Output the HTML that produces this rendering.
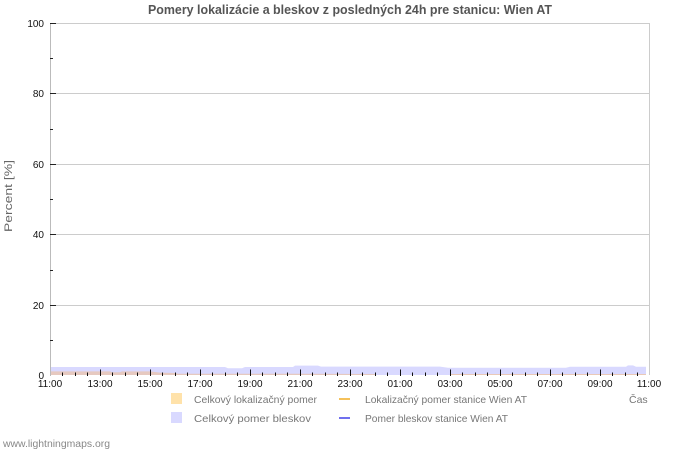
<!DOCTYPE html>
<html>
<head>
<meta charset="utf-8">
<style>
html,body{margin:0;padding:0;background:#fff;}
svg{display:block;}
text{font-family:"Liberation Sans","DejaVu Sans",sans-serif;}
</style>
</head>
<body>
<svg width="700" height="450" viewBox="0 0 700 450" xmlns="http://www.w3.org/2000/svg">
<rect x="0" y="0" width="700" height="450" fill="#fff"/>
<!-- title -->
<text x="350" y="14" text-anchor="middle" font-size="12.5" font-weight="bold" fill="#555" textLength="404" lengthAdjust="spacingAndGlyphs">Pomery lokalizácie a bleskov z posledných 24h pre stanicu: Wien AT</text>

<!-- gridlines -->
<g stroke="#cccccc" stroke-width="1">
<line x1="50" y1="23.5" x2="650" y2="23.5"/>
<line x1="50" y1="93.5" x2="650" y2="93.5"/>
<line x1="50" y1="164.5" x2="650" y2="164.5"/>
<line x1="50" y1="234.5" x2="650" y2="234.5"/>
<line x1="50" y1="305.5" x2="650" y2="305.5"/>
<line x1="649.5" y1="23" x2="649.5" y2="375"/>
</g>

<!-- fills -->
<polygon fill="#d9d9ff" points="50,367 225,367 228,368.3 242,368.3 245,367 293,367 295,365.6 318,365.6 321,366.6 440,366.6 448,367.8 566,367.8 570,366.8 626,366.8 628,365.4 633,365.4 636,366.8 646,366.8 646,375 50,375"/>
<polygon fill="#e6c9c0" points="50,371.4 110,371.4 112,372.2 120,372.2 122,371.4 150,371.4 160,372.6 175,373 178,373.8 300,373.8 376,374 376,375 50,375"/>
<polygon fill="#eac9b8" points="450,374 646,374 646,375 450,375"/>

<!-- axis line -->
<line x1="50.5" y1="23" x2="50.5" y2="376" stroke="#bbbbbb" stroke-width="1"/>

<!-- y ticks -->
<g stroke="#222" stroke-width="1">
<line x1="50" y1="23.5" x2="56" y2="23.5"/>
<line x1="50" y1="93.5" x2="56" y2="93.5"/>
<line x1="50" y1="164.5" x2="56" y2="164.5"/>
<line x1="50" y1="234.5" x2="56" y2="234.5"/>
<line x1="50" y1="305.5" x2="56" y2="305.5"/>
<line x1="50" y1="58.5" x2="53" y2="58.5"/>
<line x1="50" y1="129.5" x2="53" y2="129.5"/>
<line x1="50" y1="199.5" x2="53" y2="199.5"/>
<line x1="50" y1="270.5" x2="53" y2="270.5"/>
<line x1="50" y1="340.5" x2="53" y2="340.5"/>
</g>

<!-- x ticks -->
<g stroke="#111" stroke-width="1">
<line x1="62.5" y1="372.5" x2="62.5" y2="376"/><line x1="75.5" y1="372.5" x2="75.5" y2="376"/><line x1="87.5" y1="372.5" x2="87.5" y2="376"/><line x1="100.5" y1="369.5" x2="100.5" y2="376"/>
<line x1="112.5" y1="372.5" x2="112.5" y2="376"/><line x1="125.5" y1="372.5" x2="125.5" y2="376"/><line x1="137.5" y1="372.5" x2="137.5" y2="376"/><line x1="150.5" y1="369.5" x2="150.5" y2="376"/>
<line x1="162.5" y1="372.5" x2="162.5" y2="376"/><line x1="175.5" y1="372.5" x2="175.5" y2="376"/><line x1="187.5" y1="372.5" x2="187.5" y2="376"/><line x1="200.5" y1="369.5" x2="200.5" y2="376"/>
<line x1="212.5" y1="372.5" x2="212.5" y2="376"/><line x1="225.5" y1="372.5" x2="225.5" y2="376"/><line x1="237.5" y1="372.5" x2="237.5" y2="376"/><line x1="250.5" y1="369.5" x2="250.5" y2="376"/>
<line x1="262.5" y1="372.5" x2="262.5" y2="376"/><line x1="275.5" y1="372.5" x2="275.5" y2="376"/><line x1="287.5" y1="372.5" x2="287.5" y2="376"/><line x1="300.5" y1="369.5" x2="300.5" y2="376"/>
<line x1="312.5" y1="372.5" x2="312.5" y2="376"/><line x1="325.5" y1="372.5" x2="325.5" y2="376"/><line x1="337.5" y1="372.5" x2="337.5" y2="376"/><line x1="350.5" y1="369.5" x2="350.5" y2="376"/>
<line x1="362.5" y1="372.5" x2="362.5" y2="376"/><line x1="375.5" y1="372.5" x2="375.5" y2="376"/><line x1="387.5" y1="372.5" x2="387.5" y2="376"/><line x1="400.5" y1="369.5" x2="400.5" y2="376"/>
<line x1="412.5" y1="372.5" x2="412.5" y2="376"/><line x1="425.5" y1="372.5" x2="425.5" y2="376"/><line x1="437.5" y1="372.5" x2="437.5" y2="376"/><line x1="450.5" y1="369.5" x2="450.5" y2="376"/>
<line x1="462.5" y1="372.5" x2="462.5" y2="376"/><line x1="475.5" y1="372.5" x2="475.5" y2="376"/><line x1="487.5" y1="372.5" x2="487.5" y2="376"/><line x1="500.5" y1="369.5" x2="500.5" y2="376"/>
<line x1="512.5" y1="372.5" x2="512.5" y2="376"/><line x1="525.5" y1="372.5" x2="525.5" y2="376"/><line x1="537.5" y1="372.5" x2="537.5" y2="376"/><line x1="550.5" y1="369.5" x2="550.5" y2="376"/>
<line x1="562.5" y1="372.5" x2="562.5" y2="376"/><line x1="575.5" y1="372.5" x2="575.5" y2="376"/><line x1="587.5" y1="372.5" x2="587.5" y2="376"/><line x1="600.5" y1="369.5" x2="600.5" y2="376"/>
<line x1="612.5" y1="372.5" x2="612.5" y2="376"/><line x1="625.5" y1="372.5" x2="625.5" y2="376"/><line x1="637.5" y1="372.5" x2="637.5" y2="376"/>
</g>

<!-- y labels -->
<g font-size="10" fill="#111" text-anchor="end">
<text x="44" y="27">100</text>
<text x="44" y="97">80</text>
<text x="44" y="168">60</text>
<text x="44" y="238">40</text>
<text x="44" y="309">20</text>
<text x="44" y="379">0</text>
</g>
<text transform="translate(12,196) rotate(-90)" font-size="11" fill="#666" text-anchor="middle" textLength="72" lengthAdjust="spacingAndGlyphs">Percent   [%]</text>

<!-- x labels -->
<g font-size="10" fill="#111" text-anchor="middle">
<text x="50" y="387">11:00</text>
<text x="100" y="387">13:00</text>
<text x="150" y="387">15:00</text>
<text x="200" y="387">17:00</text>
<text x="250" y="387">19:00</text>
<text x="300" y="387">21:00</text>
<text x="350" y="387">23:00</text>
<text x="400" y="387">01:00</text>
<text x="450" y="387">03:00</text>
<text x="500" y="387">05:00</text>
<text x="550" y="387">07:00</text>
<text x="600" y="387">09:00</text>
<text x="649" y="387">11:00</text>
</g>

<!-- legend -->
<rect x="171" y="393" width="11" height="11" fill="#ffe2aa"/>
<text x="194" y="403" font-size="10.5" fill="#777" textLength="123" lengthAdjust="spacingAndGlyphs">Celkový lokalizačný pomer</text>
<line x1="339" y1="399" x2="350" y2="399" stroke="#f5c15a" stroke-width="2"/>
<text x="365" y="403" font-size="10.5" fill="#777" textLength="162" lengthAdjust="spacingAndGlyphs">Lokalizačný pomer stanice Wien AT</text>
<text x="629" y="403" font-size="10.5" fill="#777">Čas</text>

<rect x="171" y="412" width="11" height="11" fill="#d9d9ff"/>
<text x="194" y="422" font-size="10.5" fill="#777" textLength="117" lengthAdjust="spacingAndGlyphs">Celkový pomer bleskov</text>
<line x1="339" y1="418" x2="350" y2="418" stroke="#7070ee" stroke-width="2"/>
<text x="365" y="422" font-size="10.5" fill="#777" textLength="143" lengthAdjust="spacingAndGlyphs">Pomer bleskov stanice Wien AT</text>

<text x="3" y="447" font-size="10" fill="#888" textLength="107" lengthAdjust="spacingAndGlyphs">www.lightningmaps.org</text>
</svg>
</body>
</html>
